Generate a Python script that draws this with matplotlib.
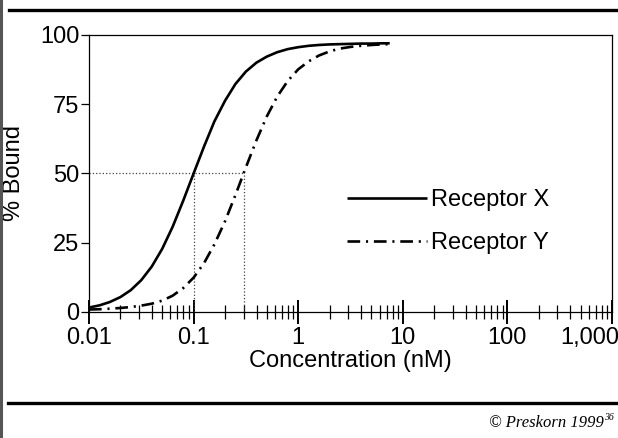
import matplotlib
matplotlib.use("Agg")
import matplotlib.pyplot as plt
import matplotlib.transforms as mtransforms
from matplotlib.lines import Line2D

plt.rcParams['font.family'] = ['Liberation Sans', 'DejaVu Sans']

# Data
conc = [0.01, 0.0126, 0.0158, 0.02, 0.0251, 0.0316, 0.0398, 0.0501, 0.0631, 0.0794,
        0.1, 0.126, 0.158, 0.2, 0.251, 0.316, 0.398, 0.501, 0.631, 0.794,
        1.0, 1.26, 1.58, 2.0, 2.51, 3.16, 3.98, 5.01, 6.31, 7.5]
receptor_x = [1.6, 2.4, 3.6, 5.4, 7.9, 11.5, 16.4, 22.8, 30.8, 40.1,
              50.0, 59.8, 68.8, 76.3, 82.3, 86.8, 90.0, 92.2, 93.8, 94.9,
              95.6, 96.1, 96.4, 96.6, 96.7, 96.8, 96.9, 96.9, 97.0, 97.0]
receptor_y = [0.9, 1.0, 1.2, 1.45, 1.8, 2.3, 3.0, 4.1, 5.9, 8.6,
              12.4, 17.7, 24.4, 32.8, 42.2, 52.2, 61.9, 70.6, 77.8, 83.4,
              87.6, 90.5, 92.6, 94.1, 95.1, 95.7, 96.1, 96.4, 96.6, 96.7]
ref_x = [0.1, 0.3]          # EC50 reference concentrations
ref_level = 50
series_names = ["Receptor X", "Receptor Y"]
xtick_vals = [0.01, 0.1, 1, 10, 100, 1000]
xtick_labels = ["0.01", "0.1", "1", "10", "100", "1,000"]
ytick_vals = [0, 25, 50, 75, 100]

W, H = 618, 438
fig = plt.figure(figsize=(W / 100, H / 100), dpi=100)
ax = fig.add_axes([89 / W, 1 - 312 / H, (612 - 89) / W, (312 - 35) / H])

ax.set_xscale('log')
ax.set_xlim(0.01, 1000)
ax.set_ylim(0, 100)

# reference dotted lines
ax.plot([0.01, ref_x[1]], [ref_level, ref_level], ls=':', color='#444444', lw=0.9)
for rx in ref_x:
    ax.plot([rx, rx], [0, ref_level], ls=':', color='#444444', lw=0.9)

lx, = ax.plot(conc, receptor_x, color='black', lw=1.9, solid_capstyle='butt',
              solid_joinstyle='round', label=series_names[0])
ly, = ax.plot(conc, receptor_y, color='black', lw=1.9,
              dashes=(4.8, 2.2, 0.8, 2.2), label=series_names[1])

for s in ax.spines.values():
    s.set_linewidth(0.9)

ax.set_xticks(xtick_vals)
ax.set_xticklabels(xtick_labels)
ax.set_yticks(ytick_vals)
ax.tick_params(axis='x', which='major', direction='inout', length=17, width=1.4,
               labelsize=17, pad=2)
ax.tick_params(axis='x', which='minor', direction='inout', length=10, width=0.9)
ax.tick_params(axis='y', which='major', direction='out', length=6, width=0.9,
               labelsize=17, pad=1)
ax.set_xlabel("Concentration (nM)", fontsize=17, labelpad=1)
ax.set_ylabel("% Bound", fontsize=17, labelpad=10.5)

# keep the last x label inside the figure, as in the reference
last = ax.get_xticklabels()[-1]
last.set_transform(last.get_transform() +
                   mtransforms.ScaledTranslation(-22 / 100, 0, fig.dpi_scale_trans))

leg = ax.legend(handles=[lx, ly], loc='upper left', frameon=False, fontsize=17,
                handlelength=3.4, handletextpad=0.15, labelspacing=0.9,
                borderpad=0, borderaxespad=0,
                bbox_to_anchor=(347 / W, 1 - 189 / H),
                bbox_transform=fig.transFigure)

# page decorations
fig.add_artist(Line2D([9 / W, 1], [1 - 9.5 / H] * 2, color='black', lw=2.4,
                      transform=fig.transFigure))
fig.add_artist(Line2D([8 / W, 617 / W], [1 - 403 / H] * 2, color='black', lw=2.4,
                      transform=fig.transFigure))
fig.add_artist(Line2D([1.5 / W, 1.5 / W], [0, 1], color='#555555', lw=2.2,
                      transform=fig.transFigure))

fig.text(604 / W, 1 - 427 / H, "© Preskorn 1999", ha='right', va='baseline',
         fontsize=12, family=['Liberation Serif', 'DejaVu Serif'], style='italic')
fig.text(604.5 / W, 1 - 420 / H, "36", ha='left', va='baseline',
         fontsize=7, family=['Liberation Serif', 'DejaVu Serif'], style='italic')

fig.savefig("out.png", dpi=100)
